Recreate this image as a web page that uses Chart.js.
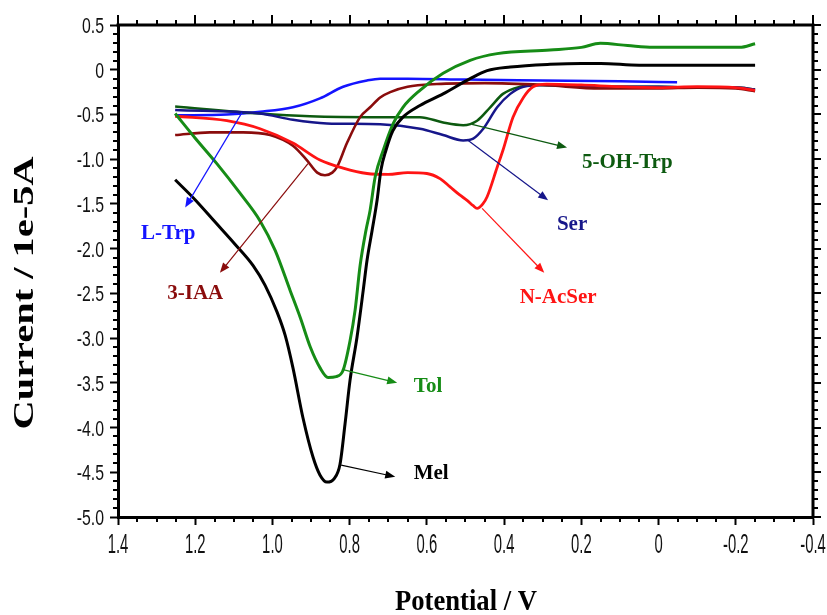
<!DOCTYPE html>
<html>
<head>
<meta charset="utf-8">
<script src="https://cdn.jsdelivr.net/npm/chart.js@4.4.1/dist/chart.umd.min.js"></script>
<style>
  body { margin: 0; background: #fff; }
  canvas { display: block; }
</style>
</head>
<body>
<canvas id="cv-chart" width="827" height="615"></canvas>
<script>
// axis ticks
var xTicks = [1.4, 1.2, 1.0, 0.8, 0.6, 0.4, 0.2, 0, -0.2, -0.4];
var yTicks = [0.5, 0, -0.5, -1.0, -1.5, -2.0, -2.5, -3.0, -3.5, -4.0, -4.5, -5.0];

// Mel (black)
var melV = [1.252, 1.201, 1.149, 1.097, 1.050, 1.019, 0.988, 0.967, 0.947, 0.921, 0.895, 0.877, 0.859, 0.840, 0.825, 0.812, 0.799, 0.781, 0.765, 0.755, 0.742, 0.729, 0.719, 0.706, 0.688, 0.662, 0.618, 0.558, 0.488, 0.444, 0.384, 0.281, 0.20, 0.15, 0.05, -0.10, -0.25];
var melI = [-1.23, -1.45, -1.70, -1.95, -2.19, -2.41, -2.71, -2.97, -3.33, -3.89, -4.33, -4.53, -4.61, -4.57, -4.41, -3.96, -3.47, -2.99, -2.47, -2.13, -1.80, -1.46, -1.12, -0.90, -0.68, -0.53, -0.40, -0.27, -0.10, -0.01, 0.03, 0.06, 0.07, 0.07, 0.05, 0.05, 0.05];

// Tol (green)
var tolV = [1.252, 1.201, 1.144, 1.084, 1.032, 0.993, 0.954, 0.928, 0.902, 0.877, 0.856, 0.835, 0.817, 0.799, 0.786, 0.773, 0.758, 0.747, 0.734, 0.713, 0.687, 0.662, 0.618, 0.558, 0.488, 0.418, 0.281, 0.20, 0.151, 0.08, 0.014, -0.108, -0.21, -0.25];
var tolI = [-0.49, -0.76, -1.05, -1.38, -1.69, -2.02, -2.47, -2.77, -3.10, -3.33, -3.44, -3.43, -3.36, -3.03, -2.69, -2.19, -1.80, -1.57, -1.20, -0.90, -0.60, -0.42, -0.23, -0.04, 0.105, 0.18, 0.22, 0.25, 0.295, 0.27, 0.25, 0.25, 0.25, 0.29];

// L-Trp (blue)
var ltrpV = [1.252, 1.118, 1.032, 0.947, 0.877, 0.817, 0.755, 0.721, 0.65, 0.50, 0.30, 0.10, -0.048];
var ltrpI = [-0.51, -0.50, -0.47, -0.42, -0.32, -0.19, -0.12, -0.10, -0.10, -0.11, -0.12, -0.13, -0.14];

// 5-OH-Trp (dark green)
var ohtrpV = [1.252, 1.032, 0.903, 0.721, 0.618, 0.558, 0.506, 0.47, 0.436, 0.403, 0.359, 0.32, 0.20, 0.10, 0.0, -0.10, -0.20, -0.25];
var ohtrpI = [-0.41, -0.49, -0.52, -0.53, -0.53, -0.59, -0.62, -0.57, -0.42, -0.27, -0.19, -0.17, -0.18, -0.19, -0.19, -0.20, -0.20, -0.22];

// Ser (navy)
var serV = [1.252, 1.032, 0.947, 0.859, 0.721, 0.618, 0.558, 0.506, 0.48, 0.454, 0.418, 0.384, 0.35, 0.30, 0.20, 0.10, 0.0, -0.10, -0.20, -0.25];
var serI = [-0.45, -0.49, -0.56, -0.60, -0.61, -0.66, -0.73, -0.79, -0.77, -0.66, -0.42, -0.27, -0.19, -0.17, -0.18, -0.19, -0.19, -0.20, -0.20, -0.22];

// N-AcSer (red)
var acserV = [1.252, 1.118, 1.032, 0.947, 0.877, 0.817, 0.755, 0.70, 0.65, 0.60, 0.565, 0.54, 0.515, 0.496, 0.48, 0.47, 0.455, 0.444, 0.418, 0.403, 0.377, 0.35, 0.325, 0.29, 0.20, 0.10, 0.0, -0.10, -0.20, -0.25];
var acserI = [-0.52, -0.57, -0.66, -0.82, -1.01, -1.10, -1.16, -1.17, -1.15, -1.16, -1.22, -1.31, -1.40, -1.46, -1.52, -1.55, -1.50, -1.42, -1.09, -0.90, -0.53, -0.31, -0.19, -0.16, -0.17, -0.19, -0.20, -0.19, -0.20, -0.23];

// 3-IAA (dark red)
var iaaV = [1.252, 1.162, 1.076, 1.006, 0.947, 0.911, 0.884, 0.864, 0.845, 0.833, 0.807, 0.773, 0.747, 0.721, 0.695, 0.65, 0.574, 0.45, 0.30, 0.15, 0.0, -0.10, -0.20, -0.25];
var iaaI = [-0.73, -0.70, -0.70, -0.73, -0.85, -1.01, -1.15, -1.18, -1.15, -1.09, -0.82, -0.53, -0.42, -0.31, -0.25, -0.19, -0.16, -0.15, -0.17, -0.21, -0.21, -0.20, -0.21, -0.24];

var cBlack = '#000000';
var cGreen = '#168c16';
var cBlue = '#1414ff';
var cDarkGreen = '#0d5a10';
var cNavy = '#16168a';
var cRed = '#ff1414';
var cDarkRed = '#8a0c0c';

var toPoints = function(xs, ys) {
    return xs.map(function(x, i) { return { x: x, y: ys[i] }; });
};

var makeSet = function(label, xs, ys, color, width) {
    return {
        label: label,
        data: toPoints(xs, ys),
        borderColor: color,
        backgroundColor: color,
        borderWidth: width,
        pointRadius: 0,
        cubicInterpolationMode: 'monotone',
        fill: false
    };
};

// label text, colour, label position, arrow tail, arrow head (data units)
var notes = [
    { text: 'L-Trp', color: cBlue, at: [1.270, -1.83], from: [1.079, -0.48], to: [1.226, -1.54] },
    { text: '3-IAA', color: cDarkRed, at: [1.200, -2.50], from: [0.908, -1.05], to: [1.136, -2.27] },
    { text: '5-OH-Trp', color: cDarkGreen, at: [0.081, -1.04], from: [0.483, -0.61], to: [0.237, -0.87] },
    { text: 'Ser', color: cNavy, at: [0.224, -1.73], from: [0.493, -0.79], to: [0.286, -1.46] },
    { text: 'N-AcSer', color: cRed, at: [0.260, -2.55], from: [0.457, -1.55], to: [0.296, -2.27] },
    { text: 'Tol', color: cGreen, at: [0.597, -3.54], from: [0.820, -3.35], to: [0.677, -3.50] },
    { text: 'Mel', color: cBlack, at: [0.589, -4.52], from: [0.822, -4.42], to: [0.682, -4.55] }
];

var fmt = function(v) {
    if (Math.abs(v) < 1e-9) return '0';
    return (Math.round(v * 10) / 10).toFixed(1);
};

// draws text squeezed horizontally by sx
var squeezed = function(ctx, text, x, y, sx, align) {
    ctx.save();
    ctx.translate(x, y);
    ctx.scale(sx, 1);
    ctx.textAlign = align;
    ctx.fillText(text, 0, 0);
    ctx.restore();
};

var framePlugin = {
    id: 'frame',
    afterDraw: function(chart) {
        var ctx = chart.ctx;
        var a = chart.chartArea;
        var xs = chart.scales.x, ys = chart.scales.y;
        var i, v, p;
        ctx.save();
        ctx.strokeStyle = '#000';
        // top & right border
        ctx.lineWidth = 3;
        ctx.beginPath();
        ctx.moveTo(a.left - 1.5, a.top);
        ctx.lineTo(a.right, a.top);
        ctx.lineTo(a.right, a.bottom + 1.5);
        ctx.stroke();

        ctx.lineWidth = 2;
        ctx.beginPath();
        for (i = 0; i <= 36; i++) {
            v = -0.4 + i * 0.05;
            p = Math.round(xs.getPixelForValue(v));
            var major = (i % 4 === 0);
            ctx.moveTo(p, a.top);
            ctx.lineTo(p, a.top - (major ? 10 : 5));
            if (!major) {
                ctx.moveTo(p, a.bottom);
                ctx.lineTo(p, a.bottom + 5);
            }
        }
        for (i = 0; i <= 55; i++) {
            v = -5 + i * 0.1;
            p = Math.round(ys.getPixelForValue(v));
            var majorY = (i % 5 === 0);
            ctx.moveTo(a.right, p);
            ctx.lineTo(a.right + (majorY ? 8 : 5), p);
            if (!majorY) {
                ctx.moveTo(a.left, p);
                ctx.lineTo(a.left - 5, p);
            }
        }
        ctx.stroke();

        // tick labels (narrow face like the original)
        ctx.fillStyle = '#111';
        ctx.textBaseline = 'alphabetic';
        ctx.font = '22px "Liberation Sans", Arial, sans-serif';
        ys.ticks.forEach(function(t) {
            squeezed(ctx, fmt(t.value), a.left - 14, ys.getPixelForValue(t.value) + 8, 0.72, 'right');
        });
        ctx.font = '27px "Liberation Sans", Arial, sans-serif';
        xs.ticks.forEach(function(t) {
            squeezed(ctx, fmt(t.value), xs.getPixelForValue(t.value), a.bottom + 36, 0.55, 'center');
        });

        // arrows and labels
        notes.forEach(function(n) {
            var x1 = xs.getPixelForValue(n.from[0]), y1 = ys.getPixelForValue(n.from[1]);
            var x2 = xs.getPixelForValue(n.to[0]), y2 = ys.getPixelForValue(n.to[1]);
            var ang = Math.atan2(y2 - y1, x2 - x1);
            ctx.strokeStyle = n.color;
            ctx.fillStyle = n.color;
            ctx.lineWidth = 1.2;
            ctx.beginPath();
            ctx.moveTo(x1, y1);
            ctx.lineTo(x2 - 6 * Math.cos(ang), y2 - 6 * Math.sin(ang));
            ctx.stroke();
            ctx.beginPath();
            ctx.moveTo(x2, y2);
            ctx.lineTo(x2 - 10 * Math.cos(ang) + 4 * Math.sin(ang), y2 - 10 * Math.sin(ang) - 4 * Math.cos(ang));
            ctx.lineTo(x2 - 10 * Math.cos(ang) - 4 * Math.sin(ang), y2 - 10 * Math.sin(ang) + 4 * Math.cos(ang));
            ctx.closePath();
            ctx.fill();
            ctx.font = 'bold 21px "Liberation Serif", serif';
            ctx.textAlign = 'center';
            ctx.textBaseline = 'middle';
            ctx.fillText(n.text, xs.getPixelForValue(n.at[0]), ys.getPixelForValue(n.at[1]));
        });

        // axis titles, stretched like the original
        ctx.fillStyle = '#000';
        ctx.font = 'bold 30px "Liberation Serif", serif';
        ctx.textBaseline = 'alphabetic';
        var tx = 'Potential / V';
        squeezed(ctx, tx, 466, 610, 142 / ctx.measureText(tx).width, 'center');

        var ty = 'Current / 1e-5A';
        var w = ctx.measureText(ty).width;
        ctx.save();
        ctx.translate(33, 293);
        ctx.rotate(-Math.PI / 2);
        squeezed(ctx, ty, 0, 0, 273 / w, 'center');
        ctx.restore();

        ctx.restore();
    }
};

var ctx = document.getElementById('cv-chart').getContext('2d');
var cvChart = new Chart(ctx, {
    type: 'line',
    data: {
        datasets: [
            makeSet('Mel', melV, melI, cBlack, 3),
            makeSet('Tol', tolV, tolI, cGreen, 3),
            makeSet('N-AcSer', acserV, acserI, cRed, 2.8),
            makeSet('3-IAA', iaaV, iaaI, cDarkRed, 2.6),
            makeSet('Ser', serV, serI, cNavy, 2.5),
            makeSet('5-OH-Trp', ohtrpV, ohtrpI, cDarkGreen, 2.5),
            makeSet('L-Trp', ltrpV, ltrpI, cBlue, 2.5)
        ]
    },
    options: {
        responsive: false,
        animation: false,
        layout: { padding: { left: 0, right: 14, top: 25, bottom: 0 } },
        plugins: {
            legend: { display: false },
            tooltip: { enabled: false }
        },
        scales: {
            x: {
                type: 'linear',
                reverse: true,
                min: -0.4,
                max: 1.4,
                afterBuildTicks: function(s) { s.ticks = xTicks.map(function(v) { return { value: v }; }); },
                afterFit: function(s) { s.height = 98; },
                ticks: { display: false },
                grid: { drawOnChartArea: false, drawTicks: true, tickLength: 8, tickWidth: 2, tickColor: '#000' },
                border: { display: true, width: 3, color: '#000' }
            },
            y: {
                type: 'linear',
                min: -5,
                max: 0.5,
                afterBuildTicks: function(s) { s.ticks = yTicks.map(function(v) { return { value: v }; }); },
                afterFit: function(s) { s.width = 118; },
                ticks: { display: false },
                grid: { drawOnChartArea: false, drawTicks: true, tickLength: 8, tickWidth: 2, tickColor: '#000' },
                border: { display: true, width: 3, color: '#000' }
            }
        }
    },
    plugins: [framePlugin]
});
</script>
</body>
</html>
